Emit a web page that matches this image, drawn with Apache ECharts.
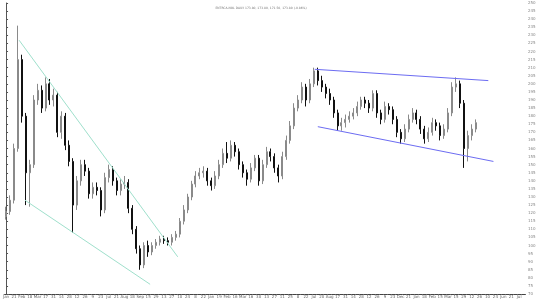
<!DOCTYPE html>
<html><head><meta charset="utf-8">
<script src="https://cdn.jsdelivr.net/npm/echarts@6/dist/echarts.min.js"></script>
<style>html,body{margin:0;padding:0;background:#fff}#c{width:540px;height:299px}</style>
</head><body><div id="c"></div>
<script>
var titleText = "ENTRCA-NOL DAILY 173.80, 173.80, 171.50, 173.80 (-0.86%)";
var opens  = [118,121,128,160,215,180,145,150,190,196,185,200,190,193,170,180,162,152,125,140,
              150,146,132,136,134,122,142,147,140,134,138,139,123,110,98,88,100,96,100,102,
              104,103,102,105,107,115,122,130,138,143,145,146,140,137,143,150,157,154,162,158,
              150,145,141,148,154,140,150,158,155,148,143,155,165,174,185,190,198,190,200,208,
              202,198,194,190,182,174,176,178,180,182,186,190,188,185,194,182,178,186,184,178,
              170,166,172,178,182,178,172,166,170,176,174,168,172,182,198,200,188,160,168,172];
var closes = [121,128,160,215,180,145,150,190,196,185,200,190,193,170,180,162,152,125,140,150,
              146,132,136,134,122,142,147,140,134,138,139,123,110,98,88,100,96,100,102,104,
              103,102,105,107,115,122,130,138,143,145,146,140,137,143,150,157,154,162,158,150,
              145,141,148,154,140,150,158,155,148,143,155,165,174,185,190,198,190,200,208,202,
              198,194,190,182,174,176,178,180,182,186,190,188,185,194,182,178,186,184,178,170,
              166,172,178,182,178,172,166,170,176,174,168,172,182,198,200,188,160,168,172,176];
var lows   = [116,119,126,158,176,125,124,148,187,182,183,187,186,167,166,159,149,108,122,137,
              143,129,129,131,118,120,139,137,131,131,135,120,107,95,85,86,93,94,98,100,
              101,100,100,103,105,113,120,128,136,141,142,137,134,135,141,148,151,152,155,147,
              142,137,139,146,137,138,148,152,145,139,141,153,163,172,183,188,186,188,198,199,
              195,191,187,179,171,171,173,176,178,180,184,185,182,183,179,175,176,181,175,167,
              163,164,170,176,175,169,163,164,168,171,165,166,170,180,195,185,148,152,165,170];
var highs  = [124,131,163,236,218,182,153,193,200,199,204,203,197,195,183,182,165,154,143,153,
              153,148,139,139,136,145,150,149,142,141,143,141,125,112,100,102,103,102,104,106,
              106,105,107,109,117,125,132,140,146,148,149,148,142,146,153,160,164,165,164,160,
              152,147,151,156,156,153,161,160,157,150,158,168,177,188,193,201,200,203,210,210,
              205,200,197,192,184,179,181,183,185,189,192,192,190,196,196,184,189,188,186,180,
              172,175,181,185,184,180,174,173,179,178,176,175,185,201,204,202,190,171,175,178];
var emptyTail = 12;
// trend lines: [bar index, price]
var greenUpper = [[3.3, 227], [43.5, 93]];
var greenLower = [[4.8, 128], [36.5, 76]];
var blueUpper  = [[78.2, 209], [122.2, 202]];
var blueLower  = [[79, 173.5], [123.5, 152]];
var yMin = 70, yMax = 250, yStep = 5;

var N = closes.length + emptyTail;
var months = ["Jan","Feb","Mar","Apr","May","Jun","Jul","Aug","Sep","Oct","Nov","Dec"];
var cats = [];
var d = new Date(2008, 0, 7);
var lastM = -1;
for (var i = 0; i < N; i++) {
  var m = d.getMonth();
  cats.push(m !== lastM ? months[m] : String(d.getDate()));
  lastM = m;
  d.setDate(d.getDate() + 7);
}
var kdata = [];
for (var i = 0; i < N; i++) {
  if (i < closes.length) kdata.push([opens[i], closes[i], lows[i], highs[i]]);
  else kdata.push('-');
}
var chart = echarts.init(document.getElementById('c'), null, {renderer: 'canvas'});
chart.setOption({
  animation: false,
  backgroundColor: '#fff',
  title: {text: titleText, left: 256, top: 2, textAlign: 'center',
          textStyle: {fontSize: 3, color: '#777', fontWeight: 'normal', fontFamily: 'DejaVu Sans'}},
  grid: {left: 0, right: 15, top: 3, bottom: 5},
  xAxis: [{
    type: 'category', data: cats, boundaryGap: true,
    axisLine: {lineStyle: {color: '#444', width: 1}},
    axisTick: {show: true, length: 1, interval: 0, lineStyle: {color: '#666'}},
    axisLabel: {fontSize: 4, color: '#666', margin: 1, interval: 1, fontFamily: 'DejaVu Sans'},
    splitLine: {show: false}
  }, {
    type: 'value', min: -0.5, max: N - 0.5, show: false
  }],
  yAxis: {
    type: 'value', position: 'right', min: yMin, max: yMax, interval: yStep,
    axisLine: {show: true, lineStyle: {color: '#555'}},
    axisTick: {show: true, length: 2, lineStyle: {color: '#555'}},
    axisLabel: {fontSize: 4, color: '#888', margin: 3, fontFamily: 'DejaVu Sans'},
    splitLine: {show: false}
  },
  series: [{
    type: 'candlestick', data: kdata, xAxisIndex: 0, barWidth: 1.5,
    itemStyle: {color: '#d0d0d0', color0: '#111', borderColor: '#8a8a8a', borderColor0: '#111', borderWidth: 1}
  }, {
    type: 'line', xAxisIndex: 1, data: greenUpper, symbol: 'none',
    lineStyle: {color: '#9fe0cc', width: 1}
  }, {
    type: 'line', xAxisIndex: 1, data: greenLower, symbol: 'none',
    lineStyle: {color: '#9fe0cc', width: 1}
  }, {
    type: 'line', xAxisIndex: 1, data: blueUpper, symbol: 'none',
    lineStyle: {color: '#6c6cf2', width: 1}
  }, {
    type: 'line', xAxisIndex: 1, data: blueLower, symbol: 'none',
    lineStyle: {color: '#6c6cf2', width: 1}
  }]
});
</script></body></html>
